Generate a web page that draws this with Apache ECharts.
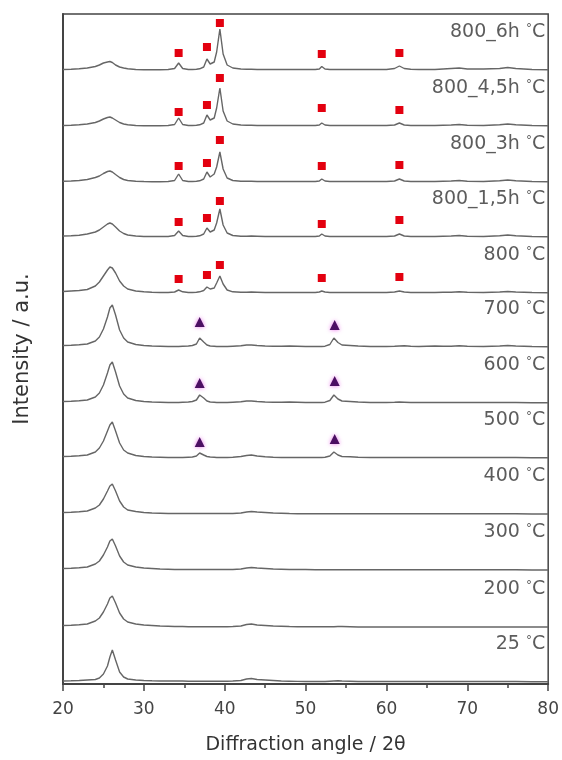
<!DOCTYPE html>
<html><head><meta charset="utf-8">
<script src="https://cdn.jsdelivr.net/npm/echarts@6/dist/echarts.min.js"></script>
<style>html,body{margin:0;padding:0;background:#fff}#c{width:562px;height:760px}</style>
</head><body><div id="c"></div>
<script>
// Diffraction angles (2θ) shared by all patterns
const angles = [20,21,22,23,24,24.5,25,25.5,25.8,26.1,
 26.5,27,27.5,28,29,30,31,32,33,33.8,
 34.3,34.8,35.5,36,36.5,36.9,37.4,37.8,38.2,38.7,
 39.0,39.4,39.8,40.3,41,42,42.7,43.3,44,45,
 46,47,48,49,50,51.2,51.7,52.0,52.4,53,
 53.5,54,54.5,55.5,56.5,58,60,61.0,61.6,62.2,
 63,64,66,67,68,69,70,72,74,75,
 76,78,80];

const sampleNames = ['25','200','300','400','500','600','700','800','800_1,5h','800_3h','800_4,5h','800_6h'];
// vertical stacking offsets (a.u.)
const offsets = [2,57,114,170,226,281,337,391,447,502,558,614];

const i25 = [1,1.2,1.5,2,2.5,4,8,16,25,32,
 22,10,5,3,2,1.5,1.2,1,1,1,
 1,1,0.8,0.8,0.8,0.8,0.8,0.8,0.8,0.8,
 0.8,0.8,0.8,0.8,1,1.5,3,3.5,2.5,2,
 1.5,1,0.8,0.6,0.5,0.5,0.5,0.5,0.5,0.8,
 1,1.2,1,0.8,0.5,0.5,0.5,0.5,0.5,0.5,
 0.5,0.5,0.5,0.5,0.5,0.5,0.5,0.5,0.5,0.5,
 0.5,0.3,0.3];
const i200 = [1.5,1.8,2.2,3,6,9,15,23,29,31,
 24,14,8,5,3,2,1.5,1,0.8,0.5,
 0.5,0.5,0.3,0.3,0.3,0.3,0.3,0.3,0.3,0.3,
 0.3,0.3,0.3,0.3,0.5,1,2.5,3,2,1.5,
 1,0.8,0.5,0.3,0.3,0.3,0.3,0.3,0.3,0.3,
 0.3,0.5,0.5,0.3,0,0,0,0,0,0,
 0,0,0,0,0,0,0,0,0,0,
 0,0,0];
const i300 = [1.5,1.8,2.2,3,6,9,15,23,29,31,
 24,14,8,5,3,2,1.5,1,0.8,0.5,
 0.5,0.5,0.5,0.5,0.5,0.5,0.5,0.5,0.5,0.5,
 0.5,0.5,0.5,0.5,0.5,1,2,2.5,2,1.5,
 1,0.8,0.5,0.5,0.5,0.3,0.3,0.3,0.3,0.3,
 0.3,0.3,0.3,0.3,0.3,0.3,0.3,0.3,0.3,0.3,
 0.3,0.3,0.3,0.3,0.3,0.3,0.3,0.3,0.3,0.3,
 0.3,0,0];
const i400 = [1.5,1.8,2.2,3,6,9,15,23,28,30,
 23,13,7,4,2.5,1.5,1,0.8,0.5,0.5,
 0.5,0.5,0.5,0.5,0.5,0.5,0.5,0.5,0.5,0.5,
 0.5,0.5,0.5,0.5,0.5,1,2,2.5,2,1.5,
 1,0.8,0.5,0.3,0.3,0.3,0.3,0.3,0.3,0.3,
 0.3,0.3,0.3,0.3,0.3,0.3,0.3,0.3,0.3,0.3,
 0.3,0.3,0.3,0.3,0.3,0.3,0.3,0.3,0.3,0.3,
 0.3,0,0];
const i500 = [1.5,1.8,2.2,3,6,10,17,27,33,36,
 27,15,8,5,2.5,1.5,1,0.8,0.5,0.5,
 0.5,0.5,0.8,1,2,5,3,1.5,1,0.8,
 0.5,0.5,0.5,0.5,0.8,1.5,2.5,3,2,1.2,
 0.8,0.5,0.5,0.5,0.5,0.5,0.5,0.5,0.8,2,
 6,3,1.5,1.2,0.8,0.5,0.5,0.5,0.5,0.5,
 0.5,0.5,0.5,0.5,0.5,0.5,0.5,0.5,0.5,0.5,
 0.5,0.3,0.3];
const i600 = [1.5,1.8,2.2,3,6,10,18,30,38,41,
 31,17,9,5,2.5,1.5,1,0.8,0.5,0.5,
 0.5,0.8,1,1.5,3,8,5,2,1,0.8,
 0.5,0.5,0.5,0.5,0.8,1.2,2,2,1.5,1,
 0.8,0.8,1,0.8,0.5,0.5,0.5,0.5,0.8,2.5,
 8,4,2,1.5,1,0.5,0.5,0.8,1,0.8,
 0.5,0.5,0.5,0.5,0.5,0.5,0.5,0.5,0.5,0.5,
 0.5,0.3,0.3];
const i700 = [1.5,1.8,2.2,3,6,10,18,30,39,42,
 32,17,9,5,2.5,1.5,1,0.8,0.5,0.5,
 0.5,0.8,1,1.5,3,9,5,2,1,0.8,
 0.5,0.5,0.5,0.5,0.8,1.2,2,2,1.5,1,
 0.8,0.8,1,0.8,0.5,0.5,0.5,0.5,0.8,2.5,
 9,4.5,2,1.5,1,0.5,0.5,0.8,1,1.2,
 0.8,0.5,1,0.8,0.8,1.2,0.8,0.5,1,1.5,
 1,0.5,0.3];
const i800 = [1.5,2,2.5,3.5,7,11,17,23,26,25,
 20,12,7,4,2,1.2,0.8,0.5,0.5,1,
 3,1.2,0.5,0.5,0.8,1.2,2.5,6,4,5,
 10,17,9,3,1.2,0.8,0.8,1,0.8,0.5,
 0.5,0.5,0.5,0.5,0.5,0.5,1,2,1,0.5,
 0.5,0.5,0.5,0.5,0.5,0.5,0.5,1,2,1,
 0.5,0.5,0.5,0.8,0.8,1.2,0.8,0.5,1,1.5,
 1,0.5,0.3];
const i800_15h = [1,1.2,1.8,3,5,7,10,13,14,13,
 10,6,3.5,2,1,0.5,0.5,0.5,0.5,1.5,
 6,1.5,0.5,0.5,0.8,1.2,3,9,5,7,
 14,28,12,4,1.5,0.8,0.8,1,0.8,0.5,
 0.5,0.5,0.5,0.5,0.5,0.5,1,3,1,0.5,
 0.5,0.5,0.5,0.5,0.5,0.5,0.5,1,3,1,
 0.5,0.5,0.5,0.8,1,1.5,0.8,0.5,1.2,2,
 1.2,0.5,0.3];
const i800_3h = [0.8,1,1.5,2.5,4.5,6,8.5,10.5,11,10,
 7.5,4.5,2.5,1.5,0.8,0.5,0.3,0.3,0.5,1.5,
 8,1.5,0.5,0.5,0.8,1.2,3,10,5,8,
 15,30,13,4,1.5,0.8,0.8,0.8,0.5,0.5,
 0.5,0.5,0.5,0.5,0.5,0.5,1,3,1,0.5,
 0.5,0.5,0.5,0.5,0.5,0.5,0.5,1,3,1,
 0.5,0.5,0.5,0.8,1,1.5,0.8,0.5,1.2,2,
 1.2,0.5,0.3];
const i800_45h = [0.5,0.8,1.2,2,3.5,5,7,8.5,9,8,
 6,3.5,2,1.2,0.5,0.3,0.2,0.2,0.5,1.5,
 8,1.5,0.5,0.5,0.8,1.2,3,11,6,8,
 18,38,15,5,2,1,0.8,0.8,0.5,0.5,
 0.5,0.5,0.5,0.5,0.5,0.5,1,3,1,0.5,
 0.5,0.5,0.5,0.5,0.5,0.5,0.5,1,3,1,
 0.5,0.5,0.5,0.8,1,1.5,0.8,0.5,1.2,2,
 1.2,0.5,0.3];
const i800_6h = [0.5,0.8,1.2,2,3.5,5,7,8,8.5,7.5,
 5,3,2,1.2,0.5,0.3,0.2,0.2,0.5,1.5,
 7,1.5,0.5,0.5,0.8,1.2,3,11,6,8,
 18,41,16,5,2,1,0.8,0.8,0.5,0.5,
 0.5,0.5,0.5,0.5,0.5,0.5,1,3.5,1,0.5,
 0.5,0.5,0.5,0.5,0.5,0.5,0.5,1.5,4,1.5,
 0.8,0.5,0.5,1,1.5,2,1,1,1.5,2.5,
 1.5,0.5,0.3];
const intensities = [i25,i200,i300,i400,i500,i600,i700,i800,i800_15h,i800_3h,i800_45h,i800_6h];

// Reflection markers: red squares (samples 800 ... 800_6h), purple triangles (500, 600, 700)
const squareAngles = [34.3, 37.8, 39.4, 52.0, 61.6];
const squareHeights = {
  '800':      [14,18,28,15,16],
  '800_1,5h': [15,19,36,13,17],
  '800_3h':   [16,19,42,16,17],
  '800_4,5h': [14,21,48,18,16],
  '800_6h':   [17,23,47,16,17]
};
const triangleAngles = [36.9, 53.6];
const triangleHeights = {
  '500': [16,19],
  '600': [20,22],
  '700': [25,22]
};
const labelHeight = 38;

const series = [];
sampleNames.forEach((name, k) => {
  series.push({
    type: 'line', name: name, showSymbol: false, silent: true,
    lineStyle: { color: '#666', width: 1.4 },
    data: angles.map((a, i) => [a, offsets[k] + intensities[k][i]])
  });
});
const sqData = [], triData = [];
Object.keys(squareHeights).forEach(n => {
  const k = sampleNames.indexOf(n);
  squareAngles.forEach((a, j) => sqData.push([a, offsets[k] + squareHeights[n][j]]));
});
Object.keys(triangleHeights).forEach(n => {
  const k = sampleNames.indexOf(n);
  triangleAngles.forEach((a, j) => triData.push([a, offsets[k] + triangleHeights[n][j]]));
});
series.push({ type: 'scatter', symbol: 'rect', symbolSize: 8, data: sqData,
  itemStyle: { color: '#e3000f', opacity: 1 }, z: 5 });
series.push({ type: 'scatter', symbol: 'triangle', symbolSize: 10, data: triData,
  itemStyle: { color: '#4c0f63', opacity: 1, shadowBlur: 4, shadowColor: 'rgba(230,80,230,0.8)' }, z: 5 });
series.push({ type: 'scatter', symbolSize: 0, z: 6,
  data: sampleNames.map((n, k) => ({ value: [80, offsets[k] + labelHeight], name: n })),
  label: { show: true, position: 'left', distance: 3, color: '#333',
    formatter: p => '{a|' + p.name + ' }{s|°}{a|C}',
    rich: {
      a: { fontFamily: 'DejaVu Sans', fontSize: 19, color: '#333' },
      s: { fontFamily: 'DejaVu Sans', fontSize: 12, color: '#333', verticalAlign: 'top' }
    }
  }
});

const chart = echarts.init(document.getElementById('c'), null, { renderer: 'canvas' });
chart.setOption({
  animation: false,
  backgroundColor: '#fff',
  grid: { left: 63, right: 12, top: 14, bottom: 76, show: true, borderColor: '#444', borderWidth: 1.5, backgroundColor: 'transparent' },
  xAxis: {
    type: 'value', min: 20, max: 80, interval: 10,
    name: 'Diffraction angle / 2θ', nameLocation: 'middle', nameGap: 52,
    nameTextStyle: { fontFamily: 'DejaVu Sans', fontSize: 19, color: '#333' },
    axisLine: { lineStyle: { color: '#444', width: 2 } },
    axisTick: { length: 7, lineStyle: { color: '#444', width: 1.5 } },
    minorTick: { show: true, splitNumber: 2, length: 4, lineStyle: { color: '#444', width: 1.5 } },
    axisLabel: { fontFamily: 'DejaVu Sans', fontSize: 17, color: '#444', margin: 17 },
    splitLine: { show: false }
  },
  yAxis: {
    type: 'value', min: 0, max: 670,
    name: 'Intensity / a.u.', nameLocation: 'middle', nameGap: 30,
    nameTextStyle: { fontFamily: 'DejaVu Sans', fontSize: 21, color: '#333' },
    axisLine: { show: true, lineStyle: { color: '#444', width: 2 } },
    axisTick: { show: false }, axisLabel: { show: false }, splitLine: { show: false }
  },
  series: series
});
</script></body></html>
